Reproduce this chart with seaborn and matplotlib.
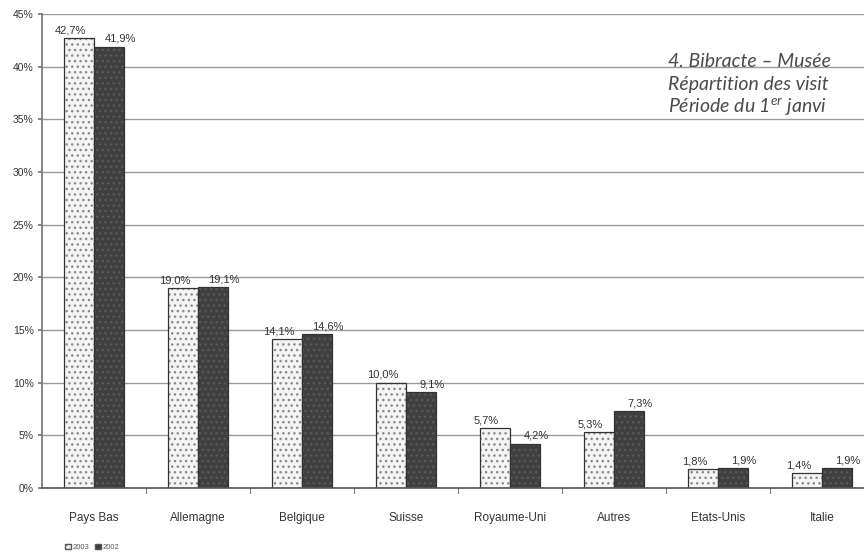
import matplotlib
matplotlib.use("Agg")
import matplotlib.pyplot as plt
from matplotlib.patches import Patch
import seaborn as sns
import pandas as pd

pays = ["Pays Bas", "Allemagne", "Belgique", "Suisse", "Royaume-Uni",
        "Autres", "Etats-Unis", "Italie"]
part_2003 = [42.7, 19.0, 14.1, 10.0, 5.7, 5.3, 1.8, 1.4]
part_2002 = [41.9, 19.1, 14.6, 9.1, 4.2, 7.3, 1.9, 1.9]
annees = ["2003", "2002"]
yticks = [0, 5, 10, 15, 20, 25, 30, 35, 40, 45]
titre = ["4. Bibracte – Musée",
         "Répartition des visit",
         r"Période du 1$^{\mathrm{er}}$ janvi"]

df = pd.DataFrame({
    "pays": pays * 2,
    "part": part_2003 + part_2002,
    "annee": ["2003"] * len(pays) + ["2002"] * len(pays),
})

sns.set_theme(style="white")
plt.rcParams["font.family"] = ["Liberation Sans", "DejaVu Sans"]
plt.rcParams["mathtext.fontset"] = "custom"
plt.rcParams["mathtext.rm"] = "Lato:italic"
plt.rcParams["mathtext.it"] = "Lato:italic"

fig = plt.figure(figsize=(8.64, 5.6), dpi=100)
ax = fig.add_axes([42 / 864, 72 / 560, 832 / 864, 474 / 560])

couleurs = {"2003": "#f4f4f4", "2002": "#3f3f3f"}
sns.barplot(data=df, x="pays", y="part", hue="annee", hue_order=annees,
            palette=couleurs, width=0.58, gap=0, ax=ax,
            edgecolor="#333333", linewidth=0.9, legend=False)

# texture of the bars: dotted light bars, speckled dark bars
for cont, ec in zip(ax.containers, ["#8a8a8a", "#585858"]):
    for bar in cont:
        bar.set_hatch("...")
        bar._hatch_color = matplotlib.colors.to_rgba(ec)

# value labels above bars
for cont, vals, dx in zip(ax.containers, [part_2003, part_2002], [-6, 8]):
    labels = [f"{v:.1f}%".replace(".", ",") for v in vals]
    for bar, lab in zip(cont, labels):
        ax.annotate(lab, (bar.get_x() + bar.get_width() / 2, bar.get_height()),
                    xytext=(dx, 2), textcoords="offset points",
                    ha="center", va="bottom", fontsize=8, color="#333333")

ax.set_ylim(0, 45)
ax.set_xlim(-0.5, len(pays) - 0.5)
ax.set_yticks(yticks)
ax.set_yticklabels([f"{t}%" for t in yticks], fontsize=7.5, color="#333333")
ax.yaxis.grid(True, color="#9a9a9a", linewidth=1.0)
ax.set_axisbelow(True)
ax.set_xlabel("")
ax.set_ylabel("")
ax.tick_params(axis="x", labelsize=8.5, colors="#333333", pad=17, length=0)
ax.tick_params(axis="y", left=True, length=3, color="#777777", pad=3)
for s in ["top", "right"]:
    ax.spines[s].set_visible(False)
ax.spines["left"].set_color("#777777")
ax.spines["bottom"].set_color("#555555")
ax.spines["bottom"].set_linewidth(1.2)

# boundary ticks between categories on the x axis
for b in range(1, len(pays)):
    ax.plot([b - 0.5, b - 0.5], [0, -0.5], color="#777777", lw=0.8,
            clip_on=False)

# heading of the page, in the upper right
for i, ligne in enumerate(titre):
    fig.text(668 / 864, 1 - (67 + 23 * i) / 560, ligne, fontsize=14,
             style="italic", family="Lato", color="#4a4a4a", va="baseline")

handles = [Patch(facecolor=couleurs[a], edgecolor="#555555",
                 hatch="..." if a == "2003" else None) for a in annees]
fig.legend(handles, annees, loc="lower left", bbox_to_anchor=(58 / 864, 2 / 560),
           ncol=2, frameon=False, fontsize=5.5, handlelength=0.8,
           handleheight=0.8, handletextpad=0.2, columnspacing=0.8,
           labelcolor="#555555")

fig.savefig("out.png", dpi=100, facecolor="white")
